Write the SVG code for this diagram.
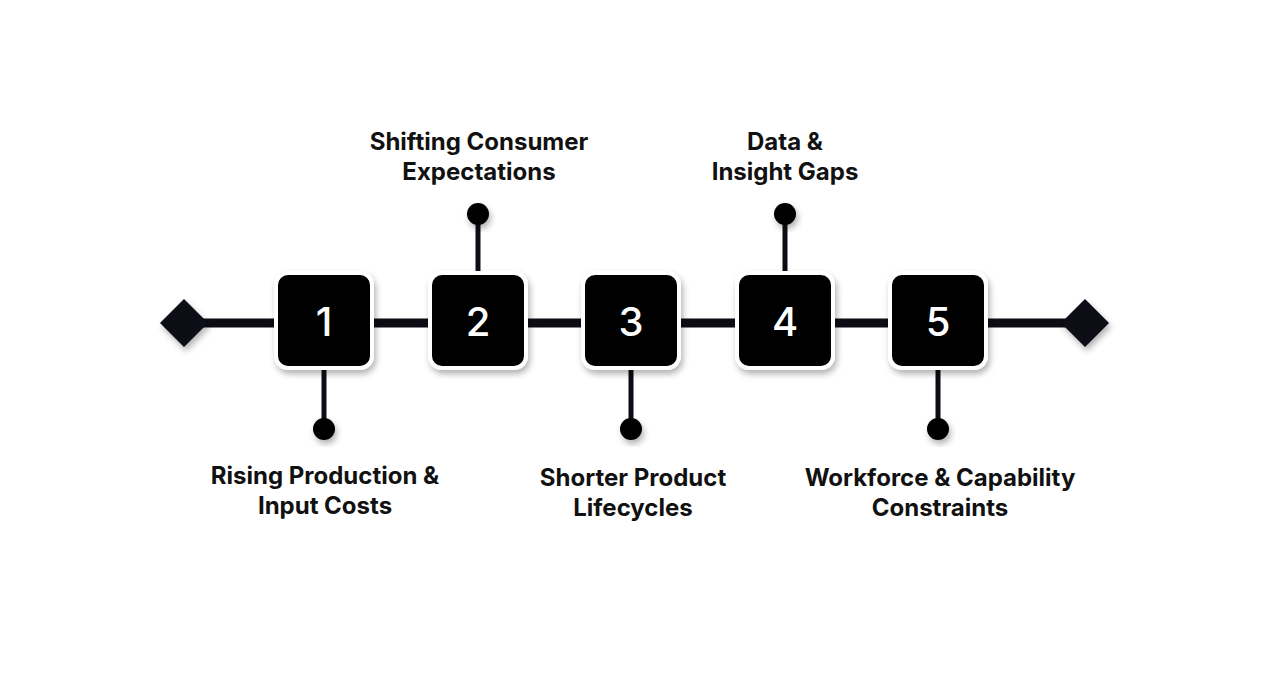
<svg xmlns="http://www.w3.org/2000/svg" width="1270" height="674" viewBox="0 0 1270 674">
<defs>
<filter id="sh" x="-30%" y="-30%" width="160%" height="160%">
<feDropShadow dx="2" dy="4" stdDeviation="3" flood-color="#000" flood-opacity="0.3"/>
</filter>
<style>
.line{stroke:#0d0c14;stroke-width:9;fill:none}
.stem{stroke:#0d0c14;stroke-width:5}
.dot{fill:#000;filter:url(#sh)}
.dia{fill:#0d0c14;filter:url(#sh)}
.box{fill:#000;stroke:#fff;stroke-width:4;filter:url(#sh)}
.num{font-family:Inter,"Liberation Sans",sans-serif;font-size:40px;font-weight:500;fill:#fff;text-anchor:middle}
.lbl{font-family:Inter,"Liberation Sans",sans-serif;font-size:24px;font-weight:700;fill:#111;text-anchor:middle}
</style>
</defs>
<rect width="1270" height="674" fill="#fff"/>
<g id="connectors">
<line class="line" x1="184" y1="323" x2="1085" y2="323"/>
<line class="stem" x1="324" y1="366" x2="324" y2="429"/>
<line class="stem" x1="478" y1="214" x2="478" y2="272"/>
<line class="stem" x1="631" y1="366" x2="631" y2="429"/>
<line class="stem" x1="785" y1="214" x2="785" y2="272"/>
<line class="stem" x1="938" y1="366" x2="938" y2="429"/>
</g>
<g id="start"><polygon class="dia" points="184,299 208,323 184,347 160,323"/></g>
<g id="end"><polygon class="dia" points="1085,299 1109,323 1085,347 1061,323"/></g>
<g id="node1">
<rect class="box" x="276" y="273" width="96" height="95" rx="12"/>
<text class="num" x="324" y="336">1</text>
<circle class="dot" cx="324" cy="429" r="11"/>
<text class="lbl" x="325" y="484">Rising Production &amp;</text>
<text class="lbl" x="325" y="514">Input Costs</text>
</g>
<g id="node2">
<rect class="box" x="430" y="273" width="96" height="95" rx="12"/>
<text class="num" x="478" y="336">2</text>
<circle class="dot" cx="478" cy="214" r="11"/>
<text class="lbl" x="479" y="150">Shifting Consumer</text>
<text class="lbl" x="479" y="180">Expectations</text>
</g>
<g id="node3">
<rect class="box" x="583" y="273" width="96" height="95" rx="12"/>
<text class="num" x="631" y="336">3</text>
<circle class="dot" cx="631" cy="429" r="11"/>
<text class="lbl" x="633" y="486">Shorter Product</text>
<text class="lbl" x="633" y="516">Lifecycles</text>
</g>
<g id="node4">
<rect class="box" x="737" y="273" width="96" height="95" rx="12"/>
<text class="num" x="785" y="336">4</text>
<circle class="dot" cx="785" cy="214" r="11"/>
<text class="lbl" x="785" y="150">Data &amp;</text>
<text class="lbl" x="785" y="180">Insight Gaps</text>
</g>
<g id="node5">
<rect class="box" x="890" y="273" width="96" height="95" rx="12"/>
<text class="num" x="938" y="336">5</text>
<circle class="dot" cx="938" cy="429" r="11"/>
<text class="lbl" x="940" y="486">Workforce &amp; Capability</text>
<text class="lbl" x="940" y="516">Constraints</text>
</g>
</svg>
